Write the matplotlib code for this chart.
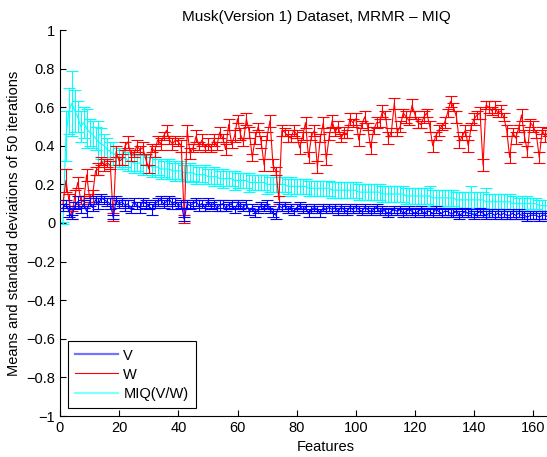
import numpy as np
import matplotlib.pyplot as plt
from matplotlib.lines import Line2D
from matplotlib.ticker import FuncFormatter

plt.rcParams['font.family'] = ['Liberation Sans', 'DejaVu Sans']

features = np.arange(1, 166)

# V - blue
v_mean = [0.08, 0.10, 0.06, 0.03, 0.09, 0.11, 0.07, 0.10, 0.06, 0.11,
          0.08, 0.12, 0.10, 0.13, 0.12, 0.11, 0.10, 0.03, 0.12, 0.10,
          0.11, 0.09, 0.10, 0.07, 0.11, 0.09, 0.08, 0.11, 0.10, 0.09,
          0.07, 0.10, 0.11, 0.12, 0.10, 0.11, 0.12, 0.10, 0.11, 0.09,
          0.10, 0.02, 0.10, 0.09, 0.10, 0.11, 0.09, 0.10, 0.08, 0.11,
          0.09, 0.10, 0.08, 0.09, 0.10, 0.08, 0.09, 0.10, 0.07, 0.10,
          0.09, 0.08, 0.10, 0.06, 0.08, 0.05, 0.07, 0.09, 0.08, 0.10,
          0.07, 0.05, 0.04, 0.09, 0.08, 0.09, 0.07, 0.08, 0.06, 0.08,
          0.09, 0.07, 0.08, 0.05, 0.07, 0.08, 0.07, 0.05, 0.08, 0.07,
          0.08, 0.07, 0.08, 0.06, 0.08, 0.07, 0.06, 0.08, 0.07, 0.08,
          0.07, 0.06, 0.08, 0.07, 0.06, 0.07, 0.08, 0.06, 0.07, 0.06,
          0.05, 0.06, 0.07, 0.06, 0.07, 0.05, 0.06, 0.07, 0.06, 0.05,
          0.06, 0.07, 0.05, 0.06, 0.06, 0.05, 0.07, 0.06, 0.05, 0.06,
          0.06, 0.05, 0.05, 0.06, 0.04, 0.05, 0.06, 0.05, 0.05, 0.04,
          0.05, 0.06, 0.05, 0.04, 0.05, 0.05, 0.04, 0.05, 0.04, 0.05,
          0.04, 0.04, 0.05, 0.04, 0.05, 0.04, 0.04, 0.03, 0.04, 0.04,
          0.04, 0.03, 0.04, 0.04, 0.03]
v_std = [0.02, 0.02, 0.03, 0.01, 0.02, 0.03, 0.02, 0.02, 0.03, 0.02,
         0.02, 0.02, 0.03, 0.02, 0.02, 0.02, 0.03, 0.01, 0.02, 0.02,
         0.02, 0.03, 0.02, 0.02, 0.02, 0.02, 0.03, 0.02, 0.02, 0.02,
         0.03, 0.02, 0.02, 0.02, 0.02, 0.02, 0.02, 0.03, 0.02, 0.02,
         0.02, 0.01, 0.02, 0.02, 0.02, 0.02, 0.03, 0.02, 0.02, 0.02,
         0.02, 0.02, 0.02, 0.03, 0.02, 0.02, 0.02, 0.02, 0.02, 0.02,
         0.02, 0.02, 0.02, 0.02, 0.02, 0.02, 0.02, 0.02, 0.02, 0.02,
         0.02, 0.02, 0.02, 0.02, 0.02, 0.02, 0.02, 0.02, 0.02, 0.02,
         0.02, 0.02, 0.02, 0.02, 0.02, 0.02, 0.02, 0.02, 0.02, 0.02,
         0.02, 0.02, 0.02, 0.02, 0.02, 0.02, 0.02, 0.02, 0.02, 0.02,
         0.02, 0.02, 0.02, 0.02, 0.02, 0.02, 0.02, 0.02, 0.02, 0.02,
         0.02, 0.02, 0.02, 0.02, 0.02, 0.02, 0.02, 0.02, 0.02, 0.02,
         0.02, 0.02, 0.02, 0.02, 0.02, 0.02, 0.02, 0.02, 0.02, 0.02,
         0.02, 0.02, 0.02, 0.02, 0.02, 0.02, 0.02, 0.02, 0.02, 0.02,
         0.02, 0.02, 0.02, 0.02, 0.02, 0.02, 0.02, 0.02, 0.02, 0.02,
         0.02, 0.02, 0.02, 0.02, 0.02, 0.02, 0.02, 0.02, 0.02, 0.02,
         0.02, 0.02, 0.02, 0.02, 0.02]

# W - red
w_mean = [0.10, 0.22, 0.12, 0.04, 0.14, 0.21, 0.12, 0.11, 0.25, 0.13,
          0.14, 0.27, 0.28, 0.32, 0.30, 0.31, 0.30, 0.03, 0.37, 0.32,
          0.33, 0.40, 0.42, 0.35, 0.36, 0.40, 0.38, 0.39, 0.33, 0.28,
          0.39, 0.37, 0.43, 0.41, 0.45, 0.48, 0.43, 0.41, 0.43, 0.42,
          0.40, 0.02, 0.48, 0.36, 0.39, 0.45, 0.40, 0.43, 0.39, 0.41,
          0.39, 0.43, 0.40, 0.47, 0.44, 0.38, 0.51, 0.41, 0.45, 0.54,
          0.46, 0.42, 0.54, 0.47, 0.34, 0.44, 0.50, 0.42, 0.30, 0.45,
          0.53, 0.30, 0.27, 0.12, 0.48, 0.47, 0.45, 0.44, 0.48, 0.46,
          0.39, 0.45, 0.52, 0.34, 0.45, 0.48, 0.29, 0.44, 0.52, 0.33,
          0.45, 0.53, 0.47, 0.50, 0.44, 0.47, 0.46, 0.54, 0.52, 0.54,
          0.43, 0.51, 0.55, 0.50, 0.39, 0.48, 0.52, 0.52, 0.58, 0.56,
          0.44, 0.47, 0.62, 0.47, 0.50, 0.57, 0.55, 0.53, 0.61, 0.56,
          0.52, 0.51, 0.55, 0.57, 0.50, 0.40, 0.45, 0.48, 0.50, 0.52,
          0.57, 0.63, 0.60, 0.55, 0.42, 0.45, 0.48, 0.40, 0.50, 0.54,
          0.56, 0.57, 0.30, 0.61, 0.60, 0.58, 0.60, 0.57, 0.58, 0.55,
          0.48, 0.34, 0.47, 0.44, 0.49, 0.56, 0.45, 0.37, 0.52, 0.50,
          0.46, 0.34, 0.48, 0.45, 0.47]
w_std = [0.02, 0.06, 0.03, 0.02, 0.03, 0.03, 0.02, 0.03, 0.03, 0.02,
         0.03, 0.02, 0.03, 0.02, 0.03, 0.02, 0.02, 0.02, 0.03, 0.02,
         0.03, 0.02, 0.03, 0.03, 0.02, 0.03, 0.02, 0.03, 0.03, 0.02,
         0.02, 0.03, 0.02, 0.03, 0.02, 0.03, 0.02, 0.03, 0.02, 0.02,
         0.03, 0.02, 0.03, 0.03, 0.02, 0.03, 0.02, 0.03, 0.02, 0.03,
         0.02, 0.03, 0.02, 0.03, 0.02, 0.03, 0.03, 0.02, 0.03, 0.02,
         0.03, 0.02, 0.03, 0.03, 0.02, 0.03, 0.02, 0.03, 0.03, 0.02,
         0.03, 0.03, 0.02, 0.02, 0.03, 0.02, 0.03, 0.02, 0.03, 0.02,
         0.03, 0.02, 0.03, 0.03, 0.02, 0.03, 0.03, 0.02, 0.03, 0.03,
         0.02, 0.03, 0.02, 0.03, 0.02, 0.03, 0.02, 0.03, 0.02, 0.03,
         0.03, 0.02, 0.03, 0.02, 0.03, 0.02, 0.03, 0.02, 0.03, 0.02,
         0.03, 0.02, 0.03, 0.02, 0.03, 0.02, 0.03, 0.02, 0.03, 0.02,
         0.03, 0.02, 0.03, 0.02, 0.03, 0.03, 0.02, 0.03, 0.02, 0.03,
         0.02, 0.03, 0.02, 0.03, 0.03, 0.02, 0.03, 0.03, 0.02, 0.03,
         0.02, 0.03, 0.03, 0.02, 0.03, 0.02, 0.03, 0.02, 0.03, 0.02,
         0.03, 0.03, 0.02, 0.03, 0.02, 0.03, 0.03, 0.03, 0.02, 0.03,
         0.02, 0.03, 0.02, 0.03, 0.02]

# MIQ(V/W) - cyan
miq_mean = [0.00, 0.45, 0.58, 0.62, 0.58, 0.55, 0.50, 0.52, 0.49, 0.47,
            0.46, 0.44, 0.42, 0.41, 0.40, 0.38, 0.37, 0.36, 0.35, 0.34,
            0.33, 0.34, 0.32, 0.32, 0.31, 0.31, 0.31, 0.30, 0.30, 0.30,
            0.29, 0.29, 0.29, 0.28, 0.28, 0.28, 0.28, 0.27, 0.27, 0.27,
            0.27, 0.26, 0.26, 0.26, 0.26, 0.25, 0.25, 0.25, 0.25, 0.24,
            0.24, 0.24, 0.24, 0.23, 0.23, 0.23, 0.23, 0.23, 0.22, 0.22,
            0.22, 0.22, 0.22, 0.21, 0.21, 0.21, 0.21, 0.21, 0.21, 0.20,
            0.20, 0.20, 0.20, 0.20, 0.20, 0.20, 0.19, 0.19, 0.19, 0.19,
            0.19, 0.19, 0.19, 0.18, 0.18, 0.18, 0.18, 0.18, 0.18, 0.18,
            0.18, 0.17, 0.17, 0.17, 0.17, 0.17, 0.17, 0.17, 0.17, 0.17,
            0.16, 0.16, 0.16, 0.16, 0.16, 0.16, 0.16, 0.16, 0.15, 0.15,
            0.15, 0.15, 0.15, 0.15, 0.15, 0.15, 0.14, 0.14, 0.14, 0.14,
            0.14, 0.14, 0.14, 0.14, 0.14, 0.13, 0.13, 0.13, 0.13, 0.13,
            0.13, 0.13, 0.13, 0.12, 0.12, 0.12, 0.12, 0.12, 0.12, 0.12,
            0.12, 0.12, 0.12, 0.11, 0.11, 0.11, 0.11, 0.11, 0.11, 0.11,
            0.11, 0.11, 0.10, 0.10, 0.10, 0.10, 0.10, 0.10, 0.10, 0.10,
            0.10, 0.09, 0.09, 0.09, 0.09]
miq_std = [0.005, 0.13, 0.12, 0.17, 0.11, 0.08, 0.08, 0.08, 0.10, 0.07,
           0.07, 0.06, 0.11, 0.08, 0.06, 0.06, 0.05, 0.06, 0.05, 0.05,
           0.05, 0.05, 0.05, 0.05, 0.05, 0.04, 0.05, 0.05, 0.05, 0.04,
           0.05, 0.05, 0.04, 0.05, 0.04, 0.05, 0.05, 0.04, 0.05, 0.04,
           0.05, 0.04, 0.04, 0.05, 0.04, 0.05, 0.04, 0.04, 0.05, 0.04,
           0.04, 0.05, 0.04, 0.04, 0.05, 0.04, 0.04, 0.04, 0.05, 0.04,
           0.04, 0.04, 0.04, 0.05, 0.04, 0.04, 0.04, 0.04, 0.04, 0.05,
           0.04, 0.04, 0.04, 0.04, 0.04, 0.04, 0.04, 0.05, 0.04, 0.04,
           0.04, 0.04, 0.04, 0.04, 0.04, 0.04, 0.04, 0.04, 0.04, 0.04,
           0.04, 0.04, 0.04, 0.04, 0.04, 0.04, 0.04, 0.04, 0.04, 0.04,
           0.04, 0.04, 0.04, 0.04, 0.04, 0.04, 0.04, 0.04, 0.04, 0.04,
           0.04, 0.04, 0.04, 0.04, 0.04, 0.04, 0.04, 0.04, 0.04, 0.04,
           0.04, 0.04, 0.04, 0.04, 0.05, 0.04, 0.04, 0.04, 0.04, 0.04,
           0.04, 0.04, 0.04, 0.04, 0.04, 0.04, 0.04, 0.04, 0.07, 0.04,
           0.04, 0.04, 0.04, 0.07, 0.04, 0.04, 0.04, 0.04, 0.04, 0.04,
           0.04, 0.04, 0.04, 0.04, 0.03, 0.04, 0.03, 0.04, 0.03, 0.03,
           0.03, 0.03, 0.03, 0.03, 0.03]

y_ticks = [-1, -0.8, -0.6, -0.4, -0.2, 0, 0.2, 0.4, 0.6, 0.8, 1]
x_ticks = [0, 20, 40, 60, 80, 100, 120, 140, 160]

# the original axes run to 180 and were cropped at the right edge
fig = plt.figure(figsize=(5.47, 4.57), dpi=100)
ax = fig.add_axes([60 / 547, 41 / 457, 532.5 / 547, 386 / 457])

ekw = dict(lw=0.8, elinewidth=0.8, capsize=4, capthick=0.8)
ax.errorbar(features, miq_mean, yerr=miq_std, color=(0, 1, 1), zorder=2, **ekw)
ax.errorbar(features, w_mean, yerr=w_std, color=(1, 0, 0), zorder=3, **ekw)
ax.errorbar(features, v_mean, yerr=v_std, color=(0, 0, 1), zorder=4, **ekw)

ax.set_xlim(0, 180)
ax.set_ylim(-1, 1)
ax.set_xticks(x_ticks)
ax.set_yticks(y_ticks)
ax.yaxis.set_major_formatter(FuncFormatter(lambda v, p: f'{round(v, 2):g}'.replace('-', '\u2212')))
ax.tick_params(direction='in', length=4, width=0.8, labelsize=10.5)
ax.spines['top'].set_visible(False)
ax.spines['right'].set_visible(False)
for s in ['left', 'bottom']:
    ax.spines[s].set_linewidth(0.8)

fig.text(316.7 / 547, (457 - 21) / 457, 'Musk(Version 1) Dataset, MRMR \u2013 MIQ',
         fontsize=11, ha='center', va='baseline')
ax.set_xlabel('Features', fontsize=10.5)
ax.xaxis.set_label_coords(0.5, -0.062)
ax.set_ylabel('Means and standard deviations of 50 iterations', fontsize=10.5, labelpad=4)

handles = [Line2D([], [], color=(0.45, 0.45, 1), lw=1.6),
           Line2D([], [], color=(1, 0, 0), lw=0.8),
           Line2D([], [], color=(0.5, 1, 1), lw=1.6)]
leg = ax.legend(handles, ['V', 'W', 'MIQ(V/W)'], loc='lower left',
                bbox_to_anchor=(8 / 532.5, 8 / 386), borderaxespad=0, fontsize=10.5,
                fancybox=False, framealpha=1, edgecolor='black',
                handlelength=2.9, handletextpad=0.4, borderpad=0.5, labelspacing=0.35)
leg.get_frame().set_linewidth(0.8)

fig.savefig('out.png', dpi=100)
